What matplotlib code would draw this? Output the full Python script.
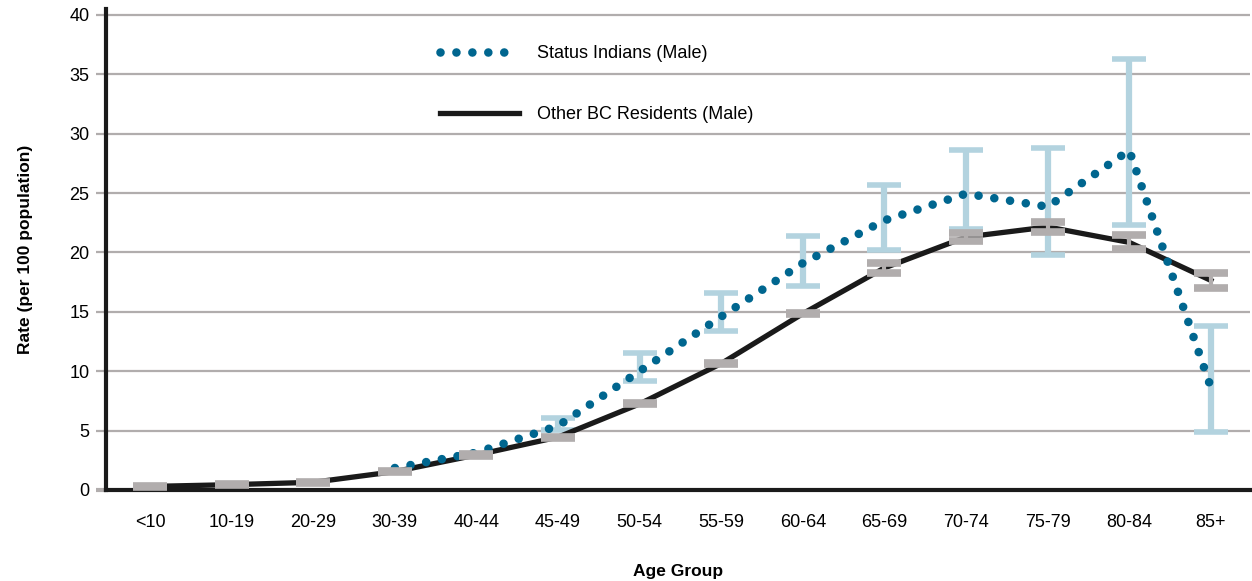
import numpy as np
import matplotlib
matplotlib.use('Agg')
import matplotlib.pyplot as plt

plt.rcParams['font.family'] = ['Liberation Sans Narrow', 'Liberation Sans', 'DejaVu Sans']

age_groups = ['<10', '10-19', '20-29', '30-39', '40-44', '45-49', '50-54',
              '55-59', '60-64', '65-69', '70-74', '75-79', '80-84', '85+']

# Other BC Residents (Male)
other_rate = [0.3, 0.45, 0.65, 1.55, 2.95, 4.45, 7.25, 10.65, 14.85, 18.7, 21.3, 22.15, 20.85, 17.65]
other_low = [0.25, 0.4, 0.6, 1.5, 2.9, 4.4, 7.2, 10.6, 14.8, 18.3, 20.95, 21.75, 20.3, 17.05]
other_high = [0.35, 0.5, 0.7, 1.6, 3.0, 4.5, 7.3, 10.7, 14.9, 19.15, 21.6, 22.6, 21.45, 18.25]

# Status Indians (Male)
si_rate = [np.nan, np.nan, np.nan, 1.85, 3.15, 5.4, 10.0, 14.6, 19.1, 22.7, 24.95, 23.85, 28.6, 8.65]
si_low = [np.nan, np.nan, np.nan, np.nan, np.nan, 5.08, 9.2, 13.35, 17.2, 20.25, 21.95, 19.75, 22.3, 4.9]
si_high = [np.nan, np.nan, np.nan, np.nan, np.nan, 6.1, 11.5, 16.55, 21.35, 25.65, 28.6, 28.8, 36.3, 13.8]

x = np.arange(len(age_groups))
other_rate = np.array(other_rate)
si_rate = np.array(si_rate)

fig = plt.figure(figsize=(12.52, 5.81), dpi=100)
ax = fig.add_axes([106 / 1252, 1 - 490 / 581, 1144 / 1252, 481 / 581])

grid_c = '#b1adad'
blue_err = '#b3d3df'
dot_c = '#00668f'

ax.set_axisbelow(True)
ax.yaxis.grid(True, color=grid_c, linewidth=1.6)

# status indians error bars
si_err = [si_rate - np.array(si_low), np.array(si_high) - si_rate]
ax.errorbar(x, si_rate, yerr=si_err, fmt='none', ecolor=blue_err,
            elinewidth=4.5, capsize=12, capthick=4, zorder=2)

# other bc line
ax.plot(x, other_rate, color='#1a1a1a', linewidth=3.8, zorder=3,
        solid_joinstyle='round', label='Other BC Residents (Male)')

# status indians dotted line
ax.plot(x, si_rate, color=dot_c, linewidth=6.2, linestyle=(0, (0.001, 1.85)),
        dash_capstyle='round', zorder=4, label='Status Indians (Male)')

o_err = [other_rate - np.array(other_low), np.array(other_high) - other_rate]
ax.errorbar(x, other_rate, yerr=o_err, fmt='none', ecolor=grid_c,
            elinewidth=3, capsize=12, capthick=5.5, zorder=5)

ax.set_xlim(-0.54, 13.48)
ax.set_ylim(0, 40.5)
ax.set_yticks(np.arange(0, 41, 5))
ax.set_xticks(x)
ax.set_xticklabels(age_groups)

for s in ['top', 'right']:
    ax.spines[s].set_visible(False)
ax.spines['left'].set_linewidth(3)
ax.spines['bottom'].set_linewidth(3)
ax.spines['left'].set_color('#1a1a1a')
ax.spines['bottom'].set_color('#1a1a1a')

ax.tick_params(axis='y', length=7, width=1.6, color=grid_c, pad=5, labelsize=13)
ax.tick_params(axis='x', length=0, pad=17, labelsize=13)
t0 = ax.yaxis.get_major_ticks()[0]
t0.tick1line.set_color('#1a1a1a')
t0.tick1line.set_markeredgewidth(3)

ax.set_ylabel('Rate (per 100 population)', fontsize=12.5, fontweight='bold', labelpad=26)
ax.set_xlabel('Age Group', fontsize=12.5, fontweight='bold', labelpad=24)

handles, labels = ax.get_legend_handles_labels()
ax.legend(handles[::-1], labels[::-1], loc='upper left', bbox_to_anchor=(0.292, 0.925),
          frameon=False, fontsize=13, handlelength=4.4, handletextpad=0.95,
          labelspacing=2.45, borderpad=0, borderaxespad=0)

fig.savefig('out.png', dpi=100)
